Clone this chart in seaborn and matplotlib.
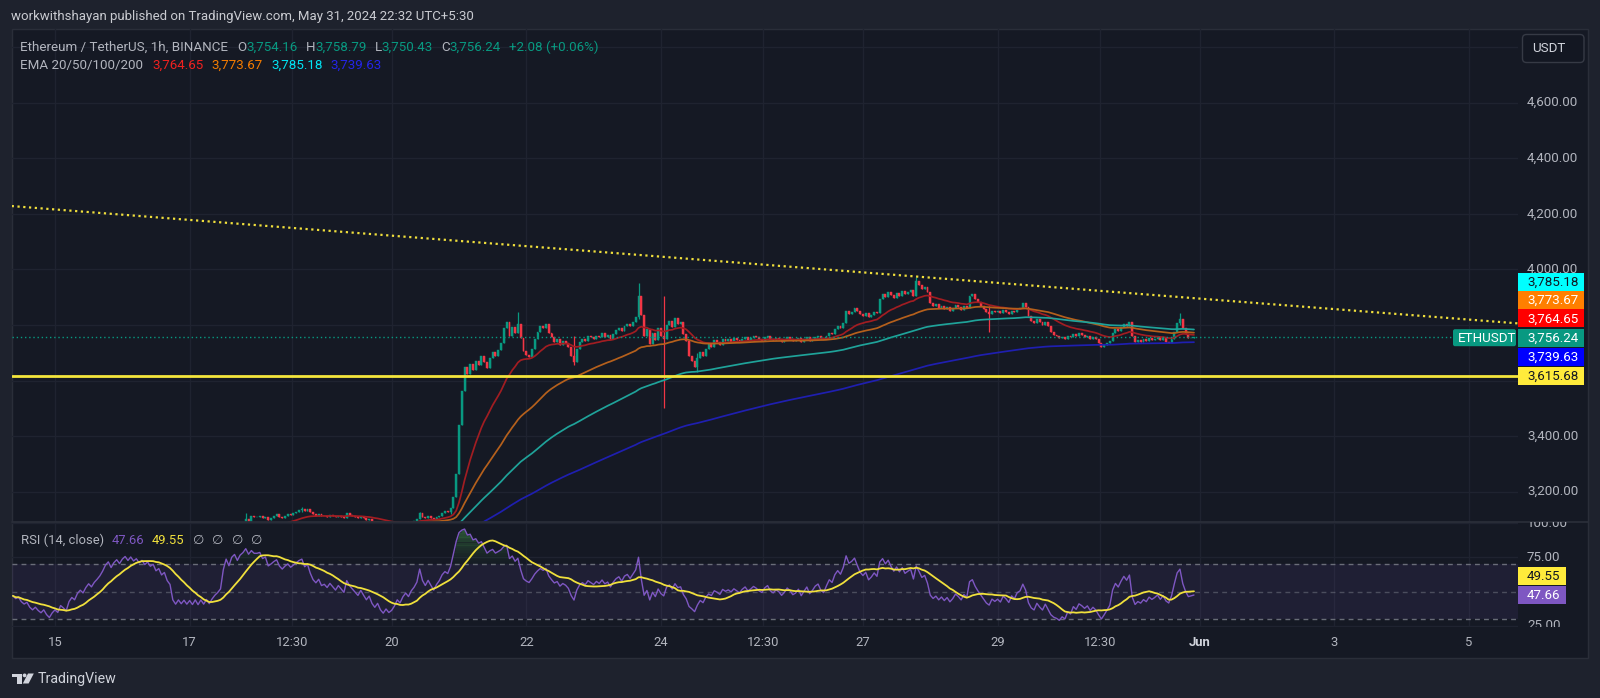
import numpy as np
import pandas as pd
import matplotlib
matplotlib.use("Agg")
import matplotlib.pyplot as plt
import seaborn as sns
from matplotlib.patches import Rectangle, FancyBboxPatch, Polygon, Circle
from matplotlib.transforms import Affine2D, Bbox, blended_transform_factory

# ---------------- data (hourly closes, local time UTC+5:30) ----------------
first_hour = -15          # May 14 09:00, hours relative to May 15 00:00
first_open = 2940.0
may14 = [2935, 2928, 2931, 2920, 2914, 2917, 2905, 2898, 2902, 2894, 2888, 2892, 2880, 2872, 2878]
may15 = [2882, 2876, 2885, 2880, 2874, 2886, 2892, 2888, 2897, 2902, 2898, 2906, 2912, 2908, 2915, 2920, 2926, 2935, 2948, 2956, 2950, 2962, 2970, 2966]
may16 = [2978, 2986, 2982, 2992, 2988, 2994, 2990, 2996, 2992, 2998, 2994, 2998, 2992, 2996, 2990, 2994, 2986, 2982, 2962, 2955, 2960, 2954, 2958, 2952]
may17 = [2956, 2950, 2955, 2948, 2953, 2947, 2952, 2946, 2951, 2955, 2958, 2962, 2992, 3020, 3012, 3040, 3052, 3044, 3066, 3078, 3100, 3092, 3112, 3108]
may18 = [3108, 3112, 3104, 3110, 3098, 3104, 3112, 3118, 3110, 3106, 3114, 3120, 3116, 3122, 3128, 3134, 3138, 3130, 3136, 3126, 3118, 3114, 3120, 3112]
may19 = [3114, 3110, 3116, 3112, 3108, 3114, 3110, 3106, 3122, 3116, 3112, 3108, 3104, 3110, 3104, 3098, 3102, 3092, 3086, 3090, 3080, 3074, 3078, 3072]
may20 = [3074, 3078, 3084, 3080, 3086, 3090, 3086, 3092, 3096, 3102, 3122, 3110, 3104, 3112, 3106, 3100, 3108, 3114, 3124, 3130, 3128, 3142, 3180, 3262]
may21 = [3440, 3562, 3648, 3625, 3660, 3638, 3672, 3655, 3690, 3668, 3645, 3680, 3702, 3688, 3710, 3735, 3790, 3812, 3760, 3792, 3770, 3805, 3752, 3705]
may22 = [3692, 3684, 3712, 3748, 3775, 3796, 3788, 3804, 3772, 3755, 3740, 3748, 3728, 3742, 3735, 3722, 3690, 3668, 3712, 3738, 3750, 3742, 3762, 3755]
may23 = [3748, 3762, 3755, 3770, 3758, 3765, 3750, 3768, 3782, 3790, 3778, 3798, 3805, 3795, 3812, 3830, 3905, 3835, 3760, 3785, 3730, 3772, 3745, 3790]
may24 = [3762, 3748, 3800, 3815, 3792, 3826, 3805, 3810, 3768, 3742, 3690, 3672, 3650, 3680, 3702, 3688, 3715, 3730, 3722, 3745, 3738, 3728, 3750, 3742]
may25 = [3748, 3740, 3752, 3745, 3738, 3750, 3758, 3746, 3752, 3760, 3755, 3748, 3744, 3756, 3762, 3750, 3745, 3752, 3748, 3740, 3746, 3755, 3750, 3742]
may26 = [3745, 3752, 3740, 3748, 3756, 3744, 3750, 3758, 3762, 3752, 3748, 3760, 3772, 3768, 3785, 3795, 3790, 3808, 3852, 3840, 3848, 3862, 3850, 3838]
may27 = [3832, 3842, 3828, 3836, 3848, 3842, 3895, 3912, 3902, 3920, 3908, 3898, 3915, 3905, 3922, 3910, 3918, 3925, 3905, 3958, 3945, 3930, 3938, 3918]
may28 = [3880, 3868, 3875, 3862, 3870, 3858, 3866, 3852, 3860, 3872, 3865, 3855, 3868, 3860, 3905, 3912, 3895, 3882, 3870, 3858, 3845, 3838, 3852, 3845]
may29 = [3850, 3842, 3855, 3848, 3838, 3852, 3845, 3858, 3862, 3878, 3865, 3832, 3815, 3808, 3822, 3810, 3800, 3812, 3795, 3775, 3765, 3760, 3752, 3758]
may30 = [3750, 3762, 3755, 3768, 3760, 3770, 3765, 3758, 3762, 3750, 3755, 3748, 3735, 3722, 3728, 3735, 3742, 3770, 3785, 3778, 3792, 3805, 3798, 3812]
may31 = [3762, 3738, 3745, 3740, 3748, 3742, 3752, 3746, 3750, 3755, 3745, 3752, 3740, 3735, 3748, 3775, 3808, 3822, 3790, 3768, 3752, 3754.16, 3756.24]

# notable wicks (hour, high, low)
wick_hours = [68, 88, 130, 141, 165, 185, 208, 217, 229, 307, 333, 401]
wick_highs = [3122, 3146, 3128, 3135, 3848, 3760, 3951, 3905, 3700, 3974, 3870, 3843]
wick_lows = [3095, 3128, 3100, 3120, 3780, 3655, 3820, 3500, 3630, 3935, 3776, 3800]

# indicator starting states (before the visible window)
ema_lengths = [20, 50, 100, 200]
ema_seeds = [2930, 2915, 2925, 2945]
rsi_seed_gain, rsi_seed_loss = 6.0, 6.4

# annotations
trend_hours = [-15.43, 521.5]
trend_prices = [4228.0, 3805.7]
support_level = 3615.68
last_price = 3756.24

grid_prices = [3200, 3400, 3600, 3800, 4000, 4200, 4400, 4600, 4800]
price_labels_shown = [3200, 3400, 4000, 4200, 4400, 4600]
rsi_ticks = [25, 75, 100]
tick_hours = [0, 48, 84.5, 120, 168, 216, 252.5, 288, 336, 372.5, 408, 456, 504]
tick_labels = ['15', '17', '12:30', '20', '22', '24', '12:30', '27', '29', '12:30', 'Jun', '3', '5']

ema_values_text = ['3,764.65', '3,773.67', '3,785.18', '3,739.63']
rsi_values_text = ['47.66', '49.55']

# ---------------- derived series ----------------
closes = np.array(may14 + may15 + may16 + may17 + may18 + may19 + may20 + may21 + may22 +
                  may23 + may24 + may25 + may26 + may27 + may28 + may29 + may30 + may31, dtype=float)
hours = np.arange(first_hour, first_hour + len(closes))
opens = np.r_[first_open, closes[:-1]]
highs = np.maximum(opens, closes)
lows = np.minimum(opens, closes)
for h, hi, lo in zip(wick_hours, wick_highs, wick_lows):
    i = h - first_hour
    highs[i] = max(highs[i], hi)
    lows[i] = min(lows[i], lo)


def ema(vals, n, seed):
    a = 2.0 / (n + 1)
    e = seed
    out = []
    for v in vals:
        e = a * v + (1 - a) * e
        out.append(e)
    return np.array(out)


delta = np.diff(np.r_[first_open, closes])
ag, al = rsi_seed_gain, rsi_seed_loss
rsi = []
for d in delta:
    ag = (ag * 13 + max(d, 0)) / 14
    al = (al * 13 + max(-d, 0)) / 14
    rsi.append(100 - 100 / (1 + ag / al))
rsi = np.array(rsi)

df = pd.DataFrame({'hour': hours, 'close': closes, 'rsi': rsi})
for n, s in zip(ema_lengths, ema_seeds):
    df[f'ema{n}'] = ema(closes, n, s)
df['rsi_ma'] = df['rsi'].rolling(14, min_periods=1).mean()

# ---------------- style ----------------
sns.set_theme(style="dark")
plt.rcParams['font.family'] = ['Roboto', 'DejaVu Sans']

W, H = 1600, 698
BG = '#151924'
OUTER = '#1e222d'
BORDER = '#2a2e39'
GRID = '#1f2330'
TXT = '#b2b5be'
UP = '#089981'
DN = '#f23645'
EMA_COLORS = ['#a11d22', '#b5601c', '#1fa39a', '#1f1fb0']

fig = plt.figure(figsize=(W / 100, H / 100), dpi=100)
fig.patch.set_facecolor(OUTER)
pix = Affine2D().scale(1.0 / W, -1.0 / H).translate(0, 1) + fig.transFigure

L, R, T, MB, RB = 11.7, 1518.0, 29.3, 521.7, 626.7
FR, FB = 1588.0, 658.0

fig.add_artist(Rectangle((L, T), FR - L, FB - T, transform=pix, facecolor=BG,
                         edgecolor=BORDER, lw=1.0, zorder=-5))


def fx(px):
    return px / W


def fy(py):
    return 1 - py / H


ax = fig.add_axes([fx(L), fy(MB), fx(R) - fx(L), fy(T) - fy(MB)])
rx = fig.add_axes([fx(L), fy(RB), fx(R) - fx(L), fy(MB) - fy(RB)])
for a in (ax, rx):
    a.set_facecolor('none')
    for s in a.spines.values():
        s.set_visible(False)
    a.tick_params(length=0, labelleft=False, labelright=False)
    a.set_xlim(-15.43, 521.5)
    a.set_xticks(tick_hours)
    a.grid(True, color=GRID, lw=1.0)

# ---------------- main pane ----------------
ax.set_ylim(3092, 4864.2)
ax.set_yticks(grid_prices)
ax.tick_params(labelbottom=False)

colors = np.where(closes >= opens, UP, DN)
ax.vlines(hours, lows, highs, colors=colors, lw=0.9, zorder=3)
ax.bar(hours, closes - opens, bottom=opens, width=0.68, color=colors,
       edgecolor=colors, lw=0.3, zorder=4)

for n, c in zip(ema_lengths, EMA_COLORS):
    sns.lineplot(data=df, x='hour', y=f'ema{n}', ax=ax, color=c, linewidth=1.25,
                 errorbar=None, zorder=5, legend=False)

ax.plot(trend_hours, trend_prices, ls=(0, (1, 1.6)), lw=1.6, color='#f0df3c', zorder=6)
ax.axhline(support_level, color='#f5e63c', lw=2.0, zorder=6)
ax.axhline(last_price, xmin=0, xmax=(1452 - L) / (R - L), color=UP, lw=1.0,
           ls=(0, (1, 2)), zorder=6)
ax.set_xlabel('')
ax.set_ylabel('')

# ---------------- RSI pane ----------------
rx.set_ylim(24.37, 101.15)
rx.set_yticks(rsi_ticks)
rx.axhspan(30, 70, color='#7e57c2', alpha=0.10, lw=0, zorder=1)
for lvl, alp in [(70, 0.85), (50, 0.5), (30, 0.85)]:
    rx.axhline(lvl, color='#787b86', lw=1.0, ls=(0, (3.5, 3)), alpha=alp, zorder=2)
for lv in np.arange(70, 100, 2):
    rx.fill_between(hours, lv, np.minimum(rsi, lv + 2), where=rsi > lv, interpolate=True,
                    color='#4caf50', alpha=0.03 + 0.5 * ((lv - 70) / 30) ** 1.3, lw=0, zorder=2)
sns.lineplot(data=df, x='hour', y='rsi', ax=rx, color='#7e57c2', linewidth=1.0,
             errorbar=None, zorder=4, legend=False)
sns.lineplot(data=df, x='hour', y='rsi_ma', ax=rx, color='#f0e03c', linewidth=1.3,
             errorbar=None, zorder=5, legend=False)
rx.set_xlabel('')
rx.set_ylabel('')
rx.set_xticklabels(tick_labels, color=TXT, fontsize=9.4)
rx.tick_params(axis='x', pad=7.0)
for t in rx.get_xticklabels():
    if t.get_text() == 'Jun':
        t.set_fontweight('bold')
        t.set_color('#d1d4dc')

# pane separator
fig.add_artist(plt.Line2D([L, FR], [MB, MB], transform=pix, color=BORDER, lw=1.3, zorder=3))

# ---------------- right axis labels ----------------
def disp_bbox(x0, y0, x1, y1):
    p0 = pix.transform((x0, y1))
    p1 = pix.transform((x1, y0))
    return Bbox.from_extents(p0[0], p0[1], p1[0], p1[1])


clip_main = disp_bbox(R, T, FR, MB)
clip_rsi = disp_bbox(R, MB, FR, RB)
tm = blended_transform_factory(pix, ax.transData)
tr = blended_transform_factory(pix, rx.transData)
for p in price_labels_shown:
    t = fig.text(1527, p, f'{p:,.2f}', transform=tm, color=TXT, fontsize=9.6,
                 va='center', ha='left', zorder=4)
    t.set_clip_box(clip_main)
    t.set_clip_on(True)
for p in rsi_ticks:
    t = fig.text(1527, p, f'{p:.2f}', transform=tr, color=TXT, fontsize=9.6,
                 va='center', ha='left', zorder=4)
    t.set_clip_box(clip_rsi)
    t.set_clip_on(True)

box_labels = ['3,785.18', '3,773.67', '3,764.65', '3,756.24', '3,739.63', '3,615.68']
box_fill = ['#00ffff', '#ff7f00', '#ff0000', '#089981', '#0000ff', '#ffeb3b']
box_text = ['#131722', '#ffffff', '#ffffff', '#ffffff', '#ffffff', '#131722']
box_slots = [281.7, 300.0, 318.3, 337.7, 356.7, 376.0]
for lab, fc, tc, yc in zip(box_labels, box_fill, box_text, box_slots):
    fig.add_artist(Rectangle((R, yc - 9.0), 66, 18.0, transform=pix, facecolor=fc,
                             edgecolor='none', zorder=7))
    fig.text(1527, yc + 0.5, lab, transform=pix, color=tc, fontsize=9.6, va='center',
             ha='left', zorder=8)
fig.add_artist(FancyBboxPatch((1453, 329.2), 63, 17.0, boxstyle='round,pad=0,rounding_size=2',
                              transform=pix, facecolor=UP, edgecolor='none', zorder=7))
fig.text(1458, 338.2, 'ETHUSDT', transform=pix, color='#ffffff', fontsize=9.6,
         va='center', ha='left', zorder=8)

for lab, fc, tc, yc in zip(['49.55', '47.66'], ['#ffeb3b', '#7e57c2'],
                           ['#131722', '#ffffff'], [576.3, 595.3]):
    fig.add_artist(Rectangle((R, yc - 9.0), 48, 18.0, transform=pix, facecolor=fc,
                             edgecolor='none', zorder=7))
    fig.text(1527, yc + 0.5, lab, transform=pix, color=tc, fontsize=9.6, va='center',
             ha='left', zorder=8)

fig.add_artist(FancyBboxPatch((1522.5, 34.5), 61.5, 28, boxstyle='round,pad=0,rounding_size=4',
                              transform=pix, facecolor='#131722', edgecolor='#363a45',
                              lw=1.0, zorder=7))
fig.text(1532, 49, 'USDT', transform=pix, color='#d1d4dc', fontsize=9.6, va='center',
         ha='left', zorder=8)

# ---------------- header texts ----------------
renderer = fig.canvas.get_renderer()


def segments(x, y, parts, size):
    for txt, col, gap, fam in parts:
        kw = {}
        if fam:
            kw['family'] = fam
        t = fig.text(x, y, txt, transform=pix, color=col, fontsize=size, va='center',
                     ha='left', zorder=8, **kw)
        x += t.get_window_extent(renderer).width + gap


fig.text(11, 16.7, 'workwithshayan published on TradingView.com, May 31, 2024 22:32 UTC+5:30',
         transform=pix, color='#c9cbd1', fontsize=9.5, va='center', ha='left')

segments(20.5, 47.7, [
    ('Ethereum / TetherUS, 1h, BINANCE', TXT, 9, None),
    ('O', TXT, 0, None), ('3,754.16', UP, 8, None),
    ('H', TXT, 0, None), ('3,758.79', UP, 8, None),
    ('L', TXT, 0, None), ('3,750.43', UP, 8, None),
    ('C', TXT, 0, None), ('3,756.24', UP, 8, None),
    ('+2.08 (+0.06%)', UP, 0, None)], 9.6)

segments(20.5, 65.0, [
    ('EMA 20/50/100/200', TXT, 9, None),
    (ema_values_text[0], '#f0211f', 8, None),
    (ema_values_text[1], '#f57c00', 8, None),
    (ema_values_text[2], '#00e5f5', 8, None),
    (ema_values_text[3], '#2424e8', 0, None)], 9.6)

segments(20.7, 540.7, [
    ('RSI (14, close)', TXT, 8, None),
    (rsi_values_text[0], '#7e57c2', 7, None),
    (rsi_values_text[1], '#f0e03c', 9, None),
    ('\u2205', TXT, 8, ['DejaVu Sans']),
    ('\u2205', TXT, 8, ['DejaVu Sans']),
    ('\u2205', TXT, 8, ['DejaVu Sans']),
    ('\u2205', TXT, 0, ['DejaVu Sans'])], 9.4)

# ---------------- TradingView logo ----------------
LOGO = '#d1d4dc'
fig.add_artist(Rectangle((12, 673.5), 9.5, 3.6, transform=pix, facecolor=LOGO, lw=0))
fig.add_artist(Rectangle((16.8, 673.5), 4.7, 10, transform=pix, facecolor=LOGO, lw=0))
fig.add_artist(Circle((24.6, 675.4), 1.9, transform=pix, facecolor=LOGO, lw=0))
fig.add_artist(Polygon([(28, 673.5), (33.8, 673.5), (28.6, 683.5), (22.8, 683.5)],
                       closed=True, transform=pix, facecolor=LOGO, lw=0))
fig.text(37.5, 678.6, 'TradingView', transform=pix, color=LOGO, fontsize=10.2,
         va='center', ha='left')

fig.savefig('out.png', dpi=100, facecolor=fig.get_facecolor())
